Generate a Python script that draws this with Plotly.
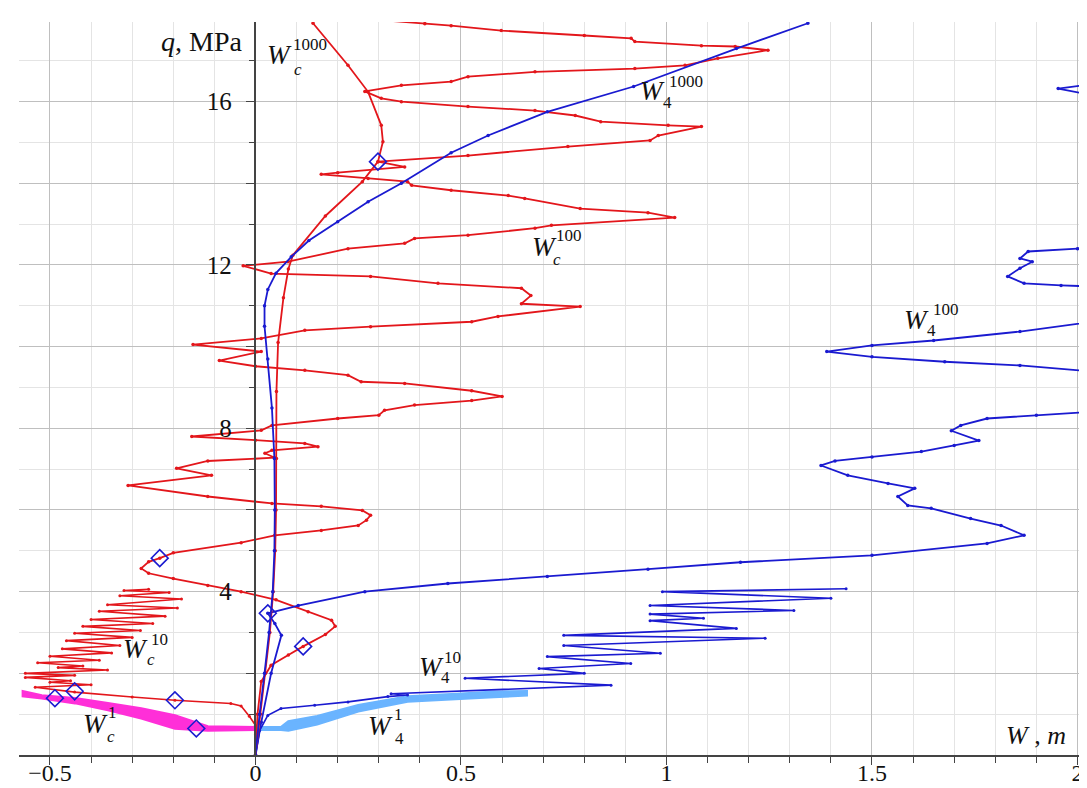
import plotly.graph_objects as go

# ---------------- data ----------------
# W_c^1000 (red)
wc1000_x = [0, 0.012, 0.024, 0.035, 0.043, 0.048, 0.05, 0.051, 0.051, 0.055, 0.068, 0.08, 0.091, 0.17, 0.26, 0.298, 0.31, 0.306, 0.274, 0.225, 0.14]
wc1000_y = [0, 1, 2, 3, 4, 5, 6, 7.26, 8.9, 10.1, 11.2, 11.9, 12.24, 13.2, 14.04, 14.53, 15.02, 15.42, 16.24, 16.89, 17.92]

# W_4^1000 (blue)
w41000_x = [0, 0.01, 0.022, 0.033, 0.042, 0.046, 0.047, 0.046, 0.04, 0.03, 0.022, 0.022, 0.03, 0.05, 0.087, 0.13, 0.2, 0.274, 0.355, 0.476, 0.566, 0.71, 0.92, 1.17, 1.344]
w41000_y = [0, 1, 2, 3, 4, 5, 6, 7.26, 8.5, 9.7, 10.5, 11.0, 11.4, 11.8, 12.2, 12.6, 13.06, 13.55, 14.0, 14.75, 15.17, 15.75, 16.37, 17.3, 17.92]

# W_c^100 (red)
wc100_x = [0, 0.005, 0.014, 0.038, 0.08, 0.116, 0.17, 0.194, 0.185, 0.128, 0.05, -0.035, -0.116, -0.2, -0.26, -0.278, -0.26, -0.233,
           -0.2, -0.035, 0.047, 0.16, 0.25, 0.27, 0.28, 0.26, 0.16, 0.04, -0.116, -0.31, -0.107, -0.192, -0.116, 0.047, 0.023, 0.04,
           0.152, 0.12, 0.0, -0.155, 0.014, 0.04, 0.2, 0.3, 0.314, 0.387, 0.526, 0.6, 0.526, 0.363, 0.257, 0.225, 0.12, 0.0,
           -0.088, 0.014, -0.152, 0.014, 0.12, 0.28, 0.526, 0.59, 0.79, 0.647, 0.67, 0.647, 0.444, 0.28, 0.038, -0.03,
           0.079, 0.225, 0.363, 0.387, 0.517, 0.68, 0.72, 1.02, 0.955, 0.79, 0.655, 0.615, 0.476, 0.38, 0.37, 0.274, 0.16,
           0.2, 0.363, 0.298, 0.517, 0.76, 0.96, 0.98, 1.085, 1.004, 0.84, 0.778, 0.68, 0.517, 0.355, 0.306, 0.266, 0.355,
           0.476, 0.517, 0.68, 0.923, 1.045, 1.125, 1.247, 1.167, 1.085, 0.923, 0.914, 0.8, 0.598, 0.476, 0.412, 0.3]
wc100_y = [0, 1.0, 1.8, 2.2, 2.45, 2.66, 2.95, 3.15, 3.3, 3.51, 3.8, 4.0, 4.15, 4.32, 4.45, 4.57, 4.73, 4.82,
           4.95, 5.2, 5.38, 5.5, 5.62, 5.75, 5.87, 5.99, 6.09, 6.16, 6.33, 6.6, 6.85, 7.02, 7.2, 7.28, 7.39, 7.46,
           7.55, 7.63, 7.71, 7.8, 7.95, 8.07, 8.24, 8.32, 8.44, 8.57, 8.68, 8.78, 8.92, 9.1, 9.14, 9.3, 9.42, 9.52,
           9.66, 9.88, 10.05, 10.2, 10.4, 10.49, 10.61, 10.74, 10.98, 11.05, 11.25, 11.43, 11.55, 11.72, 11.79, 11.98,
           12.08, 12.4, 12.53, 12.65, 12.73, 12.9, 12.97, 13.16, 13.28, 13.38, 13.63, 13.7, 13.83, 13.95, 14.04, 14.12, 14.22,
           14.26, 14.4, 14.53, 14.68, 14.9, 15.05, 15.17, 15.39, 15.42, 15.51, 15.66, 15.78, 15.88, 16.0, 16.08, 16.25, 16.4,
           16.49, 16.61, 16.73, 16.81, 16.89, 17.06, 17.26, 17.35, 17.37, 17.47, 17.55, 17.62, 17.74, 17.86, 17.91, 18.0]

# W_4^100 (blue)
w4100_x = [0, 0.014, 0.038, 0.063, 0.047, 0.03, 0.104, 0.266, 0.468, 0.71, 0.955, 1.18, 1.5, 1.78, 1.87, 1.814, 1.74, 1.644,
           1.587, 1.563, 1.604, 1.539, 1.441, 1.376, 1.41, 1.5, 1.62, 1.70, 1.76, 1.693, 1.716, 1.78, 1.90, 2.04, 2.25, 2.25,
           2.04, 1.86, 1.677, 1.5, 1.39, 1.5, 1.65, 1.86, 2.04, 2.25, 2.25, 2.04, 1.96, 1.87, 1.83, 1.86, 1.89, 1.86, 1.88,
           2.0, 2.1, 2.25, 2.25, 2.04, 1.953, 2.04, 2.25]
w4100_y = [0, 0.8, 2.0, 2.93, 3.22, 3.47, 3.66, 4.0, 4.2, 4.37, 4.55, 4.72, 4.89, 5.18, 5.38, 5.62, 5.79, 6.04,
           6.11, 6.33, 6.53, 6.65, 6.85, 7.09, 7.2, 7.3, 7.43, 7.58, 7.7, 7.94, 8.07, 8.24, 8.32, 8.41, 8.6, 9.3,
           9.39, 9.54, 9.63, 9.75, 9.88, 10.03, 10.15, 10.37, 10.61, 11.0, 11.4, 11.47, 11.5, 11.55, 11.72, 11.92, 12.08, 12.16, 12.33,
           12.4, 12.45, 13.0, 16.0, 16.15, 16.32, 16.43, 16.6]

# W_c^10 (red)
wc10_x = [0, 0.0, 0.0, -0.015, -0.035, -0.06, -0.196, -0.3, -0.44, -0.536,
          -0.40, -0.50, -0.45, -0.56, -0.44, -0.56, -0.36, -0.48, -0.42, -0.53, -0.38, -0.50, -0.35, -0.47, -0.33,
          -0.46, -0.30, -0.44, -0.28, -0.42, -0.25, -0.40, -0.22, -0.38, -0.19, -0.36, -0.18, -0.33, -0.21, -0.32, -0.26]
wc10_y = [0, 0.5, 0.73, 0.95, 1.2, 1.26, 1.34, 1.42, 1.54, 1.66,
          1.72, 1.78, 1.82, 1.90, 1.95, 2.0, 2.08, 2.14, 2.18, 2.26, 2.32, 2.42, 2.5, 2.6, 2.68,
          2.8, 2.88, 2.98, 3.05, 3.15, 3.22, 3.32, 3.4, 3.52, 3.6, 3.68, 3.82, 3.9, 3.98, 4.03, 4.06]

# W_4^10 (blue)
w410_x = [0, 0.01, 0.03, 0.062, 0.144, 0.225, 0.322, 0.37, 0.33,
          0.865, 0.51, 0.80, 0.69, 0.913, 0.71, 0.985, 0.75, 1.24, 0.75, 1.17, 0.96, 1.09, 0.96, 1.31, 0.96, 1.40, 0.99, 1.437]
w410_y = [0, 0.6, 0.97, 1.14, 1.22, 1.3, 1.43, 1.47, 1.5,
          1.71, 1.88, 2.0, 2.12, 2.24, 2.41, 2.49, 2.68, 2.86, 2.93, 3.1, 3.29, 3.35, 3.45, 3.54, 3.66, 3.84, 4.0, 4.07]

# W_c^1 (magenta band): upper and lower edges
wc1_up_x = [0, -0.116, -0.196, -0.278, -0.359, -0.439, -0.52, -0.566]
wc1_up_y = [0.68, 0.70, 0.97, 1.14, 1.27, 1.39, 1.46, 1.56]
wc1_lo_x = [0, -0.116, -0.196, -0.237, -0.278, -0.359, -0.439, -0.52, -0.566]
wc1_lo_y = [0.62, 0.60, 0.65, 0.78, 0.90, 1.10, 1.27, 1.39, 1.44]

# W_4^1 (light blue band): start and edges
w41_start_x = [0, 0.005, 0.01]
w41_start_y = [0, 0.4, 0.65]
w41_up_x = [0.01, 0.062, 0.08, 0.15, 0.25, 0.37, 0.5, 0.58, 0.66]
w41_up_y = [0.68, 0.68, 0.82, 0.95, 1.22, 1.43, 1.50, 1.55, 1.56]
w41_lo_x = [0.01, 0.062, 0.08, 0.15, 0.25, 0.37, 0.5, 0.58, 0.66]
w41_lo_y = [0.62, 0.62, 0.6, 0.75, 1.07, 1.31, 1.38, 1.42, 1.46]

# diamonds
dia_x = [0.298, -0.233, 0.03, 0.116, -0.196, -0.44, -0.488, -0.144]
dia_y = [14.53, 4.82, 3.47, 2.66, 1.34, 1.56, 1.39, 0.65]

# ticks
x_major = [-0.5, 0, 0.5, 1, 1.5, 2]
x_major_text = ["\u22120.5", "0", "0.5", "1", "1.5", "2"]
y_major = [2, 4, 6, 8, 10, 12, 14, 16]
y_labels = {4: "4", 8: "8", 12: "12", 16: "16"}

# ---------------- styles ----------------
RED = "#e3161b"
BLUE = "#1a1ad0"
MAG = "#ff2fd8"
LBLUE = "#6ab4ff"
FONT = "Liberation Serif"

X0, X1 = -0.5754, 2.0426
Y0, Y1 = 0.0, 17.95
W, H = 1087, 788
ML, MR, MT, MB = 11, 0, 14, 41

fig = go.Figure()

def curve(x, y, color, width=1.8, msize=3.5):
    fig.add_trace(go.Scatter(x=x, y=y, mode="lines+markers",
                             line=dict(color=color, width=width),
                             marker=dict(color=color, size=msize),
                             hoverinfo="skip", cliponaxis=True))

def band(ux, uy, lx, ly, color):
    fig.add_trace(go.Scatter(x=list(ux) + list(lx)[::-1], y=list(uy) + list(ly)[::-1],
                             mode="lines", fill="toself", fillcolor=color,
                             line=dict(color=color, width=2.5), hoverinfo="skip"))

band(wc1_up_x, wc1_up_y, wc1_lo_x, wc1_lo_y, MAG)
fig.add_trace(go.Scatter(x=w41_start_x, y=w41_start_y, mode="lines",
                         line=dict(color=LBLUE, width=2.5), hoverinfo="skip"))
band(w41_up_x, w41_up_y, w41_lo_x, w41_lo_y, LBLUE)

curve(wc10_x, wc10_y, RED, 1.6, 3)
curve(w410_x, w410_y, BLUE, 1.6, 3)
curve(wc100_x, wc100_y, RED)
curve(w4100_x, w4100_y, BLUE)
curve(wc1000_x, wc1000_y, RED)
curve(w41000_x, w41000_y, BLUE)

fig.add_trace(go.Scatter(x=dia_x, y=dia_y, mode="markers",
                         marker=dict(symbol="diamond-open", size=13, color=BLUE,
                                     line=dict(color=BLUE, width=1.6)),
                         hoverinfo="skip"))

# ---------------- annotations ----------------
pw = W - ML - MR
ph = H - MT - MB

def pp(px, py):
    return (px - ML) / pw, (H - MB - py) / ph

annots = []

def txt(s, px, py, size, xanchor="center"):
    x, y = pp(px, py)
    annots.append(dict(text=s, x=x, y=y, xref="paper", yref="paper", showarrow=False,
                       xanchor=xanchor, yanchor="middle",
                       font=dict(family=FONT, size=size, color="#111")))

# curve labels: (W center, superscript, subscript)
labels = [
    ((271, 47), ("1000", 302, 37), ("<i>c</i>", 290, 62)),
    ((644, 83), ("1000", 678, 73), ("4", 659, 95)),
    ((536, 239), ("100", 561, 228), ("<i>c</i>", 549, 252)),
    ((908, 312), ("100", 938, 301), ("4", 923, 322)),
    ((127, 641), ("10", 151, 631), ("<i>c</i>", 143, 651)),
    ((423, 659), ("10", 444, 649), ("4", 437, 669)),
    ((87, 716), ("1", 104, 704), ("<i>c</i>", 103, 728)),
    ((373, 718), ("1", 390, 706), ("4", 391, 730)),
]
for (wx, wy), (sup, sx, sy), (sub, bx, by) in labels:
    txt("<i>W</i>", wx, wy, 27)
    txt(sup, sx, sy, 17)
    txt(sub, bx, by, 17)

txt("<i>q</i>, MPa", 236, 33, 28, xanchor="right")
txt("<i>W</i> , <i>m</i>", 996, 727, 26, xanchor="left")

yticktext = [y_labels.get(v, "") for v in y_major]

fig.update_layout(
    width=W, height=H,
    margin=dict(l=ML, r=MR, t=MT, b=MB),
    paper_bgcolor="white", plot_bgcolor="white",
    showlegend=False,
    annotations=annots,
    font=dict(family=FONT, size=25, color="#111"),
    xaxis=dict(range=[X0, X1], tickvals=x_major, ticktext=x_major_text,
               showgrid=True, gridcolor="#bfbfbf", gridwidth=1.3,
               ticks="outside", ticklen=8, tickcolor="#444", tickwidth=1.3,
               ticklabelstandoff=-13,
               showline=True, linecolor="#444", linewidth=1.6, zeroline=False,
               tickfont=dict(family=FONT, size=24, color="#111"),
               minor=dict(dtick=0.1, tick0=0, showgrid=True, gridcolor="#e4e4e4", gridwidth=1,
                          ticks="outside", ticklen=6, tickcolor="#444")),
    yaxis=dict(range=[Y0, Y1], anchor="free", position=(0 - X0) / (X1 - X0),
               tickvals=y_major, ticktext=yticktext,
               showgrid=True, gridcolor="#bfbfbf", gridwidth=1.3,
               ticks="outside", ticklen=9, tickcolor="#444", tickwidth=1.3,
               ticklabelstandoff=9,
               showline=True, linecolor="#444", linewidth=1.6, zeroline=False,
               tickfont=dict(family=FONT, size=25, color="#111"),
               minor=dict(dtick=1, tick0=0, showgrid=True, gridcolor="#e4e4e4", gridwidth=1,
                          ticks="outside", ticklen=6, tickcolor="#444")),
)

fig.write_html("out.html")
